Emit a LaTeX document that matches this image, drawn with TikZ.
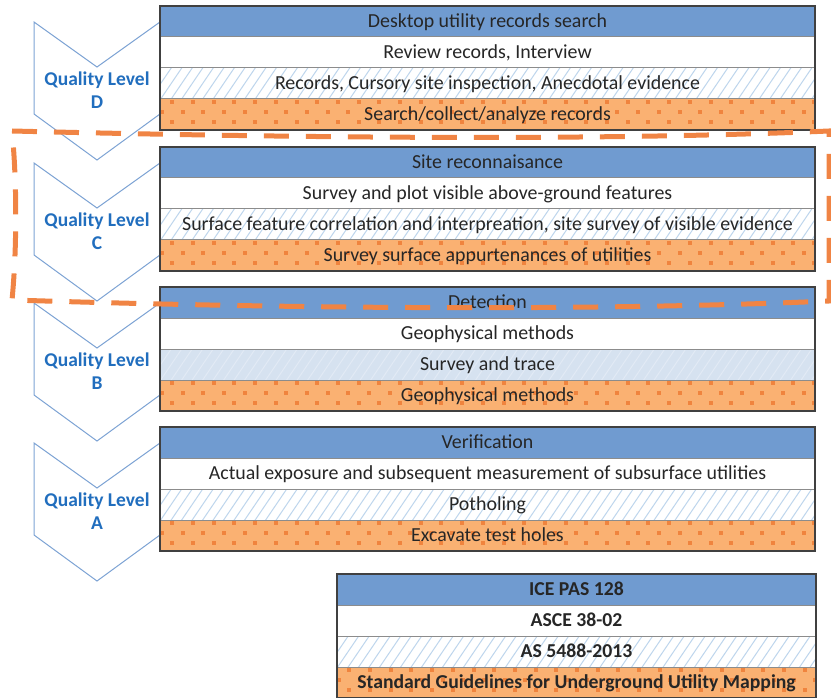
\documentclass[tikz,border=0pt]{standalone}
\usepackage{fontspec}
\setmainfont{Carlito}
\definecolor{headblue}{RGB}{112,155,208}
\definecolor{rowgray}{RGB}{140,140,140}
\definecolor{outerc}{RGB}{64,64,64}
\definecolor{orfill}{RGB}{250,177,114}
\definecolor{dotc}{RGB}{240,132,62}
\definecolor{hatchc}{RGB}{190,214,237}
\definecolor{lbfill}{RGB}{214,226,240}
\definecolor{lbhatch}{RGB}{226,234,245}
\definecolor{dashc}{RGB}{240,132,68}
\definecolor{qlc}{RGB}{33,110,190}
\definecolor{chevc}{RGB}{125,163,212}
\definecolor{txtc}{RGB}{38,38,38}
\tikzset{
  rowbase/.style={draw=rowgray, line width=1pt, minimum width=655pt, minimum height=31pt,
    inner sep=0pt, outer sep=0pt, text=txtc, text height=12.6pt, text depth=0pt,
    font=\fontsize{19.9}{23}\selectfont},
  headrow/.style={fill=headblue},
  plainrow/.style={fill=white},
  patrow/.style={},
  outerb/.style={draw=outerc, line width=1.3pt},
  chev/.style={draw=chevc, line width=1pt, fill=white},
  qltext/.style={align=center, text=qlc, inner sep=0pt,
    font=\bfseries\fontsize{19.5}{23}\selectfont},
  legrow/.style={minimum width=479pt, font=\bfseries\fontsize{19.7}{23}\selectfont},
  dashbox/.style={draw=dashc, line width=5pt, dash pattern=on 25pt off 17pt}
}
% hatch background: x, y, width, back colour, line colour
\newcommand\hatchbg[5]{%
  \fill[#4] (#1,#2) rectangle ++(#3,31);
  \begin{scope}
    \clip (#1,#2) rectangle ++(#3,31);
    \foreach \k in {-4,...,80} \draw[line width=1pt, #5] ({#1+\k*10.5},#2+32) -- ++(22.4,-33);
  \end{scope}}
% dotted orange background: x, y, width
\newcommand\dotbg[3]{%
  \fill[orfill] (#1,#2) rectangle ++(#3,31);
  \begin{scope}
    \clip (#1,#2) rectangle ++(#3,31);
    \foreach \k in {0,...,40}{
      \fill[dotc] ({#1+\k*20.7+10.3},#2+1.2) rectangle ++(4,4);
      \fill[dotc] ({#1+\k*20.7},#2+11.2) rectangle ++(4,4);
      \fill[dotc] ({#1+\k*20.7+10.3},#2+21.2) rectangle ++(4,4);}
  \end{scope}}
\newcommand\qchev[3]{%
  \draw[chev] (34,#1) -- (97,#1+45) -- (160,#1) -- (160,#1+92) -- (97,#1+138) -- (34,#1+92) -- cycle;
  \node[qltext] (#2) at (97,#1+68) {Quality Level\\#3};
}
% id, top, four texts, back colour of row 3, hatch colour of row 3
\newcommand\qblock[8]{%
  \hatchbg{160}{#2+62}{655}{#7}{#8}
  \dotbg{160}{#2+93}{655}
  \node[rowbase, headrow, anchor=north west] (#1h) at (160,#2) {#3};
  \node[rowbase, plainrow, anchor=north] (#1p) at (#1h.south) {#4};
  \node[rowbase, patrow, anchor=north] (#1x) at (#1p.south) {#5};
  \node[rowbase, patrow, anchor=north] (#1o) at (#1x.south) {#6};
  \draw[outerb] (#1h.north west) rectangle (#1o.south east);
}
\begin{document}
\begin{tikzpicture}[x=1pt,y=-1pt]
\useasboundingbox (0,0) rectangle (831,698);
\qchev{22}{qD}{D}
\qchev{163}{qC}{C}
\qchev{303}{qB}{B}
\qchev{443}{qA}{A}
\qblock{D}{6}{Desktop utility records search}{Review records, Interview}{Records, Cursory site inspection, Anecdotal evidence}{Search/collect/analyze records}{white}{hatchc}
\qblock{C}{147}{Site reconnaisance}{Survey and plot visible above-ground features}{Surface feature correlation and interpreation, site survey of visible evidence}{Survey surface appurtenances of utilities}{white}{hatchc}
\qblock{B}{287}{Detection}{Geophysical methods}{Survey and trace}{Geophysical methods}{lbfill}{lbhatch}
\qblock{A}{427}{Verification}{Actual exposure and subsequent measurement of subsurface utilities}{Potholing}{Excavate test holes}{white}{hatchc}
% legend
\hatchbg{337}{636}{479}{white}{hatchc}
\dotbg{337}{667}{479}
\node[rowbase, legrow, headrow, anchor=north west] (L1) at (337,574) {ICE PAS 128};
\node[rowbase, legrow, plainrow, anchor=north] (L2) at (L1.south) {ASCE 38-02};
\node[rowbase, legrow, patrow, anchor=north] (L3) at (L2.south) {AS 5488-2013};
\node[rowbase, legrow, patrow, anchor=north] (L4) at (L3.south) {Standard Guidelines for Underground Utility Mapping};
\draw[outerb] (L1.north west) rectangle (L4.south east);
% dashed highlight
\draw[dashbox] (12,131) .. controls (300,138) and (600,141) .. (829,131) -- (829,301)
  .. controls (600,311) and (300,309) .. (12,300) .. controls (17,250) and (17,180) .. (12,131) -- cycle;
\end{tikzpicture}
\end{document}
